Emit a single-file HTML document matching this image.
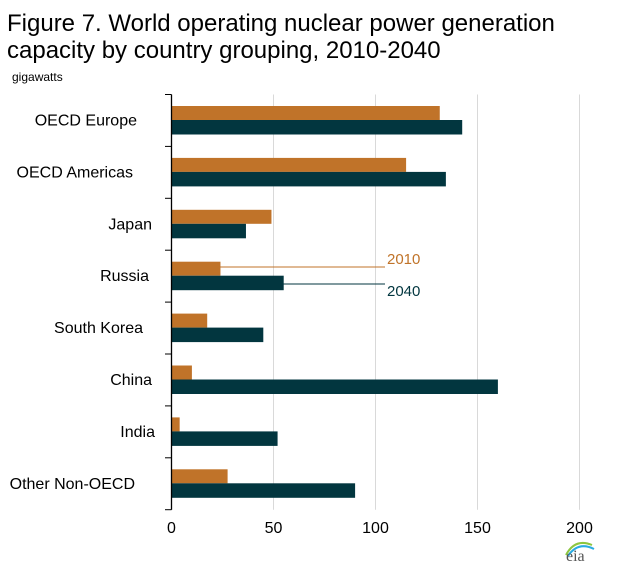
<!DOCTYPE html>
<html><head><meta charset="utf-8"><style>
body{margin:0;background:#fff;width:632px;height:579px;overflow:hidden;font-family:"Liberation Sans",Arial,sans-serif}
</style></head><body>
<svg width="632" height="579" font-family="Liberation Sans, Arial, sans-serif">
<text x="7" y="31" font-size="24" fill="#000">Figure 7. World operating nuclear power generation</text>
<text x="7" y="58" font-size="24" fill="#000">capacity by country grouping, 2010-2040</text>
<text x="12" y="81" font-size="12" fill="#000">gigawatts</text>
<g id="grid"></g><g id="bars"></g><g id="axes"></g>
<g>
<line x1="220" y1="267" x2="385" y2="267" stroke="#c07329" stroke-width="1"/>
<text x="387" y="264" font-size="15" fill="#c07329">2010</text>
<line x1="283" y1="284" x2="385" y2="284" stroke="#02363f" stroke-width="1"/>
<text x="387" y="296" font-size="15" fill="#02363f">2040</text>
</g>
<g>
<path d="M566 555 Q575 538 592 545" stroke="#8dc63f" stroke-width="2" fill="none"/>
<path d="M568 556 Q578 541 594 549" stroke="#29abe2" stroke-width="2" fill="none"/>
<text x="566" y="561" font-size="16" font-family="Liberation Serif, serif" fill="#555">eia</text>
</g>
</svg>
<script>
const categories=["OECD Europe","OECD Americas","Japan","Russia","South Korea","China","India","Other Non-OECD"];
const values2010=[131.5,115,49,24,17.5,10,4,27.5];
const values2040=[142.5,134.5,36.5,55,45,160,52,90];
const ticks=[0,50,100,150,200];
const labelEnds=[137,133,152,149,143,152,155,135];
const NS="http://www.w3.org/2000/svg";
const x0=171.5,xs=2.04,yTop=94.5,band=51.9;
const X=v=>x0+v*xs, Y=i=>yTop+i*band;
function mk(t,a,p){const e=document.createElementNS(NS,t);for(const k in a)e.setAttribute(k,a[k]);p.appendChild(e);return e;}
const grid=document.getElementById('grid'),bars=document.getElementById('bars'),axes=document.getElementById('axes');
ticks.forEach(t=>{
 if(t>0){const g=mk('line',{x1:X(t),x2:X(t),y1:yTop,y2:Y(8),stroke:'#d9d9d9','stroke-width':1},grid);
 
 }
 const l=mk('text',{x:X(t),y:533,'font-size':16,'text-anchor':'middle',fill:'#000'},axes);l.textContent=t;
 
 
});
categories.forEach((c,i)=>{
 const b1=mk('rect',{x:x0,y:Y(i)+11.5,width:values2010[i]*xs,height:14,fill:'#c07329'},bars);
 
 
 const b2=mk('rect',{x:x0,y:Y(i)+25.5,width:values2040[i]*xs,height:14.5,fill:'#02363f'},bars);
 
 
 const t=mk('text',{x:labelEnds[i],y:Y(i)+31,'font-size':16,'text-anchor':'end',fill:'#000'},axes);t.textContent=c;
 
 
});
for(let i=0;i<=8;i++){const tk=mk('line',{x1:165,x2:x0,y1:Y(i),y2:Y(i),stroke:'#000'},axes);
 
 }
const ax=mk('line',{x1:x0,x2:x0,y1:yTop,y2:Y(8),stroke:'#000','stroke-width':1.3},axes);


</script>
</body></html>
